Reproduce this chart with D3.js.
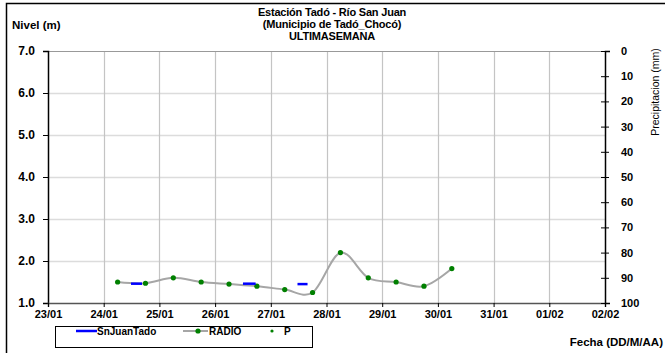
<!DOCTYPE html>
<html>
<head>
<meta charset="utf-8">
<script src="https://cdn.jsdelivr.net/npm/d3@7"></script>
<style>
    body { margin: 0; background: #fff; }
    svg text { font-family: "Liberation Sans", Arial, sans-serif; }
</style>
</head>
<body>
<div id="graph"></div>
<script>
"use strict";
// dias del eje x
const dias = ["23/01", "24/01", "25/01", "26/01", "27/01", "28/01", "29/01", "30/01", "31/01", "01/02", "02/02"];
const nivelTicks = [1, 2, 3, 4, 5, 6, 7];
const precipTicks = [0, 10, 20, 30, 40, 50, 60, 70, 80, 90, 100];

// serie RADIO
const radioFechas = ["24/01 06:00", "24/01 18:00", "25/01 06:00", "25/01 18:00", "26/01 06:00",
    "26/01 18:00", "27/01 06:00", "27/01 18:00", "28/01 06:00", "28/01 18:00",
    "29/01 06:00", "29/01 18:00", "30/01 06:00"];
const radioNivel = [1.50, 1.47, 1.60, 1.50, 1.45, 1.40, 1.32, 1.25, 2.20, 1.60, 1.50, 1.40, 1.82];

// serie SnJuanTado (tramos cortos)
const snJuanInicio = ["24/01 11:45", "26/01 12:00", "27/01 11:30"];
const snJuanFin = ["24/01 16:30", "26/01 17:30", "27/01 15:50"];
const snJuanNivel = [1.46, 1.46, 1.45];

(function() {
    const W = 665, H = 353;
    const plot = { left: 48, right: 605, top: 51, bottom: 303 };
    const parse = d3.timeParse("%d/%m %H:%M");

    const svg = d3.select("#graph").append("svg")
        .attr("width", W).attr("height", H);

    // marco exterior
    svg.append("rect")
        .attr("x", 6.5).attr("y", 3.5)
        .attr("width", 700).attr("height", 400)
        .attr("fill", "none").attr("stroke", "#000").attr("stroke-width", 1.5);

    const x = d3.scaleTime()
        .domain([parse(dias[0] + " 00:00"), parse(dias[dias.length - 1] + " 00:00")])
        .range([plot.left, plot.right]);
    const y = d3.scaleLinear().domain([1, 7]).range([plot.bottom, plot.top]);
    const yP = d3.scaleLinear().domain([0, 100]).range([plot.top, plot.bottom]);

    // rejilla
    svg.append("g").selectAll("line")
        .data(nivelTicks.slice(1, -1))
        .enter().append("line")
            .attr("x1", plot.left).attr("x2", plot.right)
            .attr("y1", d => y(d) + 0.5).attr("y2", d => y(d) + 0.5)
            .attr("stroke", "#dcdcdc").attr("stroke-width", 1.5);
    svg.append("g").selectAll("line")
        .data(dias.slice(1, -1))
        .enter().append("line")
            .attr("x1", d => Math.round(x(parse(d + " 00:00"))) + 0.5)
            .attr("x2", d => Math.round(x(parse(d + " 00:00"))) + 0.5)
            .attr("y1", plot.top).attr("y2", plot.bottom)
            .attr("stroke", "#c4c4c4").attr("stroke-width", 1.2);
    svg.append("line")
        .attr("x1", plot.left).attr("x2", plot.right)
        .attr("y1", plot.top + 0.5).attr("y2", plot.top + 0.5)
        .attr("stroke", "#999").attr("stroke-width", 1.2);

    // eje izquierdo
    const axL = svg.append("g")
        .attr("transform", "translate(" + plot.left + ",0)")
        .call(d3.axisLeft(y).tickValues(nivelTicks).tickFormat(d3.format(".1f")).tickSize(5).tickPadding(8));
    axL.selectAll("text").style("font-size", "12px").style("font-weight", "bold").attr("fill", "#000");
    axL.select(".domain").attr("stroke", "#000").attr("stroke-width", 1.5);

    // eje inferior
    const axB = svg.append("g")
        .attr("transform", "translate(0," + plot.bottom + ")")
        .call(d3.axisBottom(x).tickValues(dias.map(d => parse(d + " 00:00")))
            .tickFormat(d3.timeFormat("%d/%m")).tickSize(4).tickPadding(3));
    axB.selectAll("text").style("font-size", "11px").style("font-weight", "bold").attr("fill", "#000");
    axB.select(".domain").attr("stroke", "#555").attr("stroke-width", 1.5);

    // eje derecho (precipitacion)
    const axR = svg.append("g")
        .attr("transform", "translate(" + plot.right + ",0)")
        .call(d3.axisRight(yP).tickValues(precipTicks).tickSize(5).tickPadding(11));
    axR.selectAll(".tick line").attr("x1", -4).attr("x2", 4);
    axR.selectAll("text").style("font-size", "11px").style("font-weight", "bold").attr("fill", "#000");
    axR.select(".domain").attr("stroke", "#000").attr("stroke-width", 1.5);

    // RADIO
    const radio = radioFechas.map((f, i) => ({ t: parse(f), v: radioNivel[i] }));
    svg.append("path")
        .datum(radio)
        .attr("fill", "none").attr("stroke", "#a6a6a6").attr("stroke-width", 2)
        .attr("d", d3.line().x(d => x(d.t)).y(d => y(d.v)).curve(d3.curveCardinal.tension(0)));
    svg.append("g").selectAll("circle")
        .data(radio)
        .enter().append("circle")
            .attr("cx", d => x(d.t)).attr("cy", d => y(d.v))
            .attr("r", 2.6).attr("fill", "#008000");

    // SnJuanTado
    svg.append("g").selectAll("line")
        .data(snJuanNivel)
        .enter().append("line")
            .attr("x1", (d, i) => x(parse(snJuanInicio[i])))
            .attr("x2", (d, i) => x(parse(snJuanFin[i])))
            .attr("y1", d => y(d)).attr("y2", d => y(d))
            .attr("stroke", "#0000ff").attr("stroke-width", 2.5);

    // titulos
    const titulo = ["Estación Tadó - Río San Juan", "(Municipio de Tadó_Chocó)", "ULTIMASEMANA"];
    svg.append("g").selectAll("text")
        .data(titulo)
        .enter().append("text")
            .attr("x", 332).attr("y", (d, i) => 16 + i * 12)
            .attr("text-anchor", "middle")
            .style("font-size", "11px").style("font-weight", "bold")
            .style("letter-spacing", "-0.2px")
            .text(d => d);

    svg.append("text").attr("x", 12).attr("y", 29)
        .style("font-size", "11.5px").style("font-weight", "bold").text("Nivel (m)");
    svg.append("text").attr("x", 663).attr("y", 346).attr("text-anchor", "end")
        .style("font-size", "11.5px").style("font-weight", "bold").text("Fecha (DD/M/AA)");
    svg.append("text")
        .attr("transform", "translate(659,92) rotate(-90)")
        .attr("text-anchor", "middle")
        .style("font-size", "10.5px")
        .text("Precipitacion (mm)");

    // leyenda
    const lg = svg.append("g");
    lg.append("rect").attr("x", 55.5).attr("y", 326.5).attr("width", 257).attr("height", 21)
        .attr("fill", "#fff").attr("stroke", "#000").attr("stroke-width", 1);
    lg.append("line").attr("x1", 76).attr("x2", 97).attr("y1", 331).attr("y2", 331)
        .attr("stroke", "#0000ff").attr("stroke-width", 2.5);
    lg.append("text").attr("x", 97).attr("y", 335).style("font-size", "10px").style("font-weight", "bold").text("SnJuanTado");
    lg.append("line").attr("x1", 183).attr("x2", 208).attr("y1", 331).attr("y2", 331)
        .attr("stroke", "#a6a6a6").attr("stroke-width", 2);
    lg.append("circle").attr("cx", 198).attr("cy", 331).attr("r", 2.6).attr("fill", "#008000");
    lg.append("text").attr("x", 209).attr("y", 335).style("font-size", "10px").style("font-weight", "bold").text("RADIO");
    lg.append("circle").attr("cx", 272).attr("cy", 331).attr("r", 1.6).attr("fill", "#008000");
    lg.append("text").attr("x", 284).attr("y", 335).style("font-size", "10px").style("font-weight", "bold").text("P");
})();
</script>
</body>
</html>
